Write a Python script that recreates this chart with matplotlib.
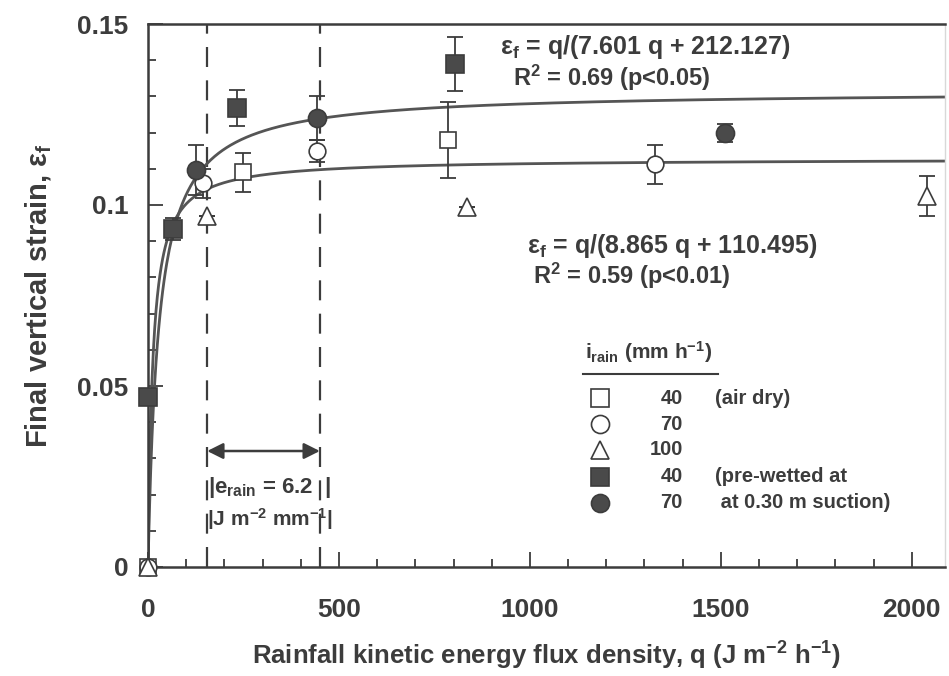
import numpy as np
import matplotlib
matplotlib.use('Agg')
from matplotlib import pyplot as plt

# font setup - bold helvetica look
plt.rcParams['font.family'] = ['Liberation Sans', 'DejaVu Sans']
plt.rcParams['font.weight'] = 'bold'
plt.rcParams['mathtext.fontset'] = 'custom'
plt.rcParams['mathtext.rm'] = 'Liberation Sans:bold'
plt.rcParams['mathtext.it'] = 'Liberation Sans:bold'
plt.rcParams['mathtext.bf'] = 'Liberation Sans:bold'
plt.rcParams['mathtext.default'] = 'regular'

ink = '#3c3c3c'

# data
# open symbols = air dry, filled = pre-wetted
sq_q = [0, 249, 785]
sq_e = [0, 0.109, 0.118]
sq_err = [0, 0.0055, 0.0105]

ci_q = [0, 145, 442, 1327]
ci_e = [0, 0.106, 0.115, 0.1112]
ci_err = [0, 0.004, 0.003, 0.0055]

tr_q = [0, 155, 836, 2039]
tr_e = [0, 0.097, 0.0994, 0.1025]
tr_err = [0, 0, 0, 0.0055]

fsq_q = [0, 65, 233, 804]
fsq_e = [0.047, 0.0934, 0.1268, 0.139]
fsq_err = [0.002, 0.003, 0.005, 0.0075]

fci_q = [126, 442, 1510]
fci_e = [0.1097, 0.124, 0.1199]
fci_err = [0.007, 0.006, 0.0025]

# fitted curves eps = q/(a q + b)
fit_wet = (7.601, 212.127)
fit_dry = (8.865, 110.495)

dash_q = [155, 450]

legend_rates = ['40', '70', '100', '40', '70']
legend_notes = ['(air dry)', '', '', '(pre-wetted at', ' at 0.30 m suction)']

fig = plt.figure(figsize=(9.49, 6.76), dpi=100)
ax = fig.add_axes([148 / 949, 1 - 567 / 676, 797 / 949, 543 / 676])

qq = np.linspace(0, 2090, 600)
for a, b in [fit_wet, fit_dry]:
    ax.plot(qq, qq / (a * qq + b), color='#555555', lw=2.0, zorder=2)

for q in dash_q:
    ax.axvline(q, color=ink, lw=1.6, dashes=(9, 6), zorder=1)


def series(q, e, err, marker, face, ms):
    ax.errorbar(q, e, yerr=err, fmt='none', ecolor=ink, elinewidth=1.3,
                capsize=6, capthick=1.3, zorder=3, clip_on=False)
    ax.plot(q, e, linestyle='none', marker=marker, ms=ms, mfc=face,
            mec=ink, mew=1.2, zorder=4, clip_on=False)


series(sq_q, sq_e, sq_err, 's', 'white', 12)
series(ci_q, ci_e, ci_err, 'o', 'white', 12)
series(tr_q, tr_e, tr_err, '^', 'white', 13)
series(fsq_q, fsq_e, fsq_err, 's', '#4a4a4a', 13)
series(fci_q, fci_e, fci_err, 'o', '#4a4a4a', 13)

ax.set_xlim(0, 2087)
ax.set_ylim(0, 0.15)
ax.set_xticks([0, 500, 1000, 1500, 2000])
ax.set_xticks(np.arange(100, 2087, 100), minor=True)
ax.set_yticks([0, 0.05, 0.1, 0.15])
ax.set_yticklabels(['0', '0.05', '0.1', '0.15'])
ax.set_yticks(np.arange(0.01, 0.15, 0.01), minor=True)
ax.tick_params(which='both', direction='in', colors=ink, labelsize=19,
               top=False, right=False, width=1.3)
ax.tick_params(which='major', length=11)
ax.tick_params(which='minor', length=6)
ax.tick_params(axis='x', pad=22)
ax.tick_params(axis='y', pad=14)
for s in ['left', 'bottom', 'top']:
    ax.spines[s].set_color(ink)
    ax.spines[s].set_linewidth(1.8)
ax.spines['right'].set_color('#d8d8d8')
ax.spines['right'].set_linewidth(1.0)

ax.set_xlabel('Rainfall kinetic energy flux density, q (J m$^{-2}$ h$^{-1}$)',
              fontsize=18.5, fontweight='bold', color=ink, labelpad=13)
ax.set_ylabel('Final vertical strain, ε$_f$', fontsize=21, fontweight='bold',
              color=ink, labelpad=17)

# equations
tk = dict(transform=ax.transAxes, color=ink, va='center')
ax.text(0.4417, 0.9576, 'ε$_f$ = q/(7.601 q + 212.127)', fontsize=18, **tk)
ax.text(0.458, 0.9006, 'R$^2$ = 0.69 (p<0.05)', fontsize=17, **tk)
ax.text(0.4755, 0.591, 'ε$_f$ = q/(8.865 q + 110.495)', fontsize=18, **tk)
ax.text(0.483, 0.536, 'R$^2$ = 0.59 (p<0.01)', fontsize=17, **tk)

# e_rain arrow
ax.annotate('', xy=(dash_q[1], 0.2136), xytext=(dash_q[0], 0.2136),
            xycoords=('data', 'axes fraction'), textcoords=('data', 'axes fraction'),
            arrowprops=dict(arrowstyle='<|-|>', color=ink, lw=1.8,
                            mutation_scale=24, shrinkA=0, shrinkB=0))
ax.text(0.1525, 0.1455, '|e$_{rain}$ = 6.2  |', transform=ax.transAxes,
        fontsize=16, color=ink, ha='center', va='center')
ax.text(0.1525, 0.0884, '|J m$^{-2}$ mm$^{-1}$|', transform=ax.transAxes,
        fontsize=15, color=ink, ha='center', va='center')

# legend drawn by hand
ax.text(0.548, 0.396, 'i$_{rain}$ (mm h$^{-1}$)', transform=ax.transAxes,
        fontsize=15, color=ink, va='center')
ax.plot([0.546, 0.715], [0.355, 0.355], transform=ax.transAxes, color=ink,
        lw=1.5, clip_on=False)
leg_marks = [('s', 'white'), ('o', 'white'), ('^', 'white'),
             ('s', '#4a4a4a'), ('o', '#4a4a4a')]
rows = [0.311, 0.263, 0.2155, 0.166, 0.118]
for (m, fc), y, r, note in zip(leg_marks, rows, legend_rates, legend_notes):
    ax.plot([0.567], [y], transform=ax.transAxes, marker=m, ms=13, mfc=fc,
            mec=ink, mew=1.2, linestyle='none', clip_on=False)
    ax.text(0.671, y, r, transform=ax.transAxes, fontsize=14.5, color=ink,
            ha='right', va='center')
    if note:
        ax.text(0.711, y, note, transform=ax.transAxes, fontsize=14.5,
                color=ink, va='center')

fig.savefig('out.png', dpi=100)
